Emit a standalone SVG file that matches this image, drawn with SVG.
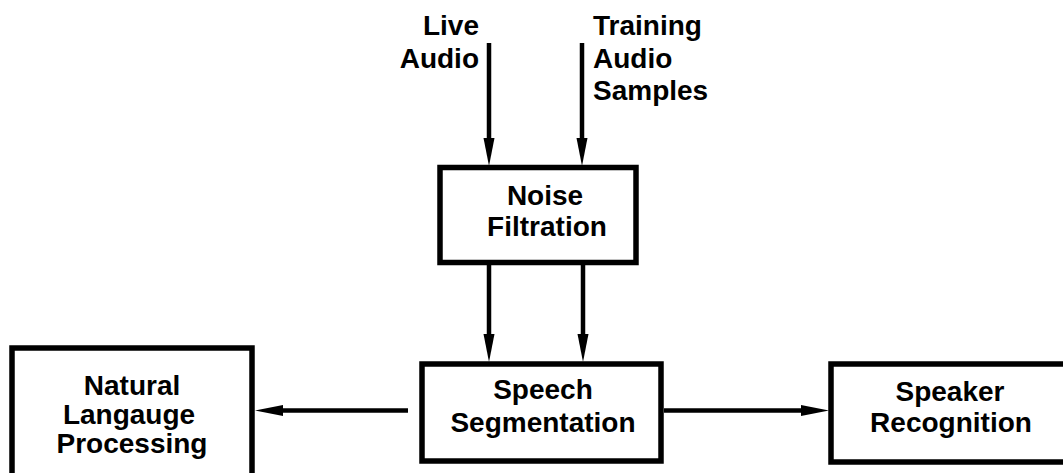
<svg xmlns="http://www.w3.org/2000/svg" width="1063" height="473" viewBox="0 0 1063 473">
<defs>
<style>
.box{fill:#fff;stroke:#000;stroke-width:5.5}
.line{stroke:#000;stroke-width:4.5;fill:none}
.head{fill:#000}
text{font-family:"Liberation Sans",Arial,sans-serif;font-weight:bold;font-size:28px;fill:#000}
.c{text-anchor:middle}
</style>
</defs>
<rect width="1063" height="473" fill="#fff"/>
<g id="connectors">
<line class="line" x1="489" y1="43" x2="489" y2="142"/>
<polygon class="head" points="489,166 483.5,138 494.5,138"/>
<line class="line" x1="582" y1="43" x2="582" y2="142"/>
<polygon class="head" points="582,166 576.5,138 587.5,138"/>
<line class="line" x1="489" y1="264" x2="489" y2="338"/>
<polygon class="head" points="489,362 483.5,334 494.5,334"/>
<line class="line" x1="583" y1="264" x2="583" y2="338"/>
<polygon class="head" points="583,362 577.5,334 588.5,334"/>
<line class="line" x1="408" y1="410.5" x2="278" y2="410.5"/>
<polygon class="head" points="255,410.5 283,405 283,416"/>
<line class="line" x1="664" y1="410.5" x2="805" y2="410.5"/>
<polygon class="head" points="829,410.5 801,405 801,416"/>
</g>
<g id="label-live">
<text x="479" y="35" text-anchor="end">Live</text>
<text x="479" y="68" text-anchor="end">Audio</text>
</g>
<g id="label-training">
<text x="593" y="35">Training</text>
<text x="593" y="68">Audio</text>
<text x="593" y="100">Samples</text>
</g>
<g id="noise-filtration">
<rect class="box" x="440" y="167.5" width="196" height="95"/>
<text class="c" x="545" y="205">Noise</text>
<text class="c" x="547" y="236">Filtration</text>
</g>
<g id="speech-segmentation">
<rect class="box" x="422" y="364" width="239" height="97"/>
<text class="c" x="543" y="399">Speech</text>
<text class="c" x="543" y="432">Segmentation</text>
</g>
<g id="nlp">
<rect class="box" x="12" y="348" width="240" height="140"/>
<text class="c" x="132" y="395">Natural</text>
<text class="c" x="129" y="424">Langauge</text>
<text class="c" x="132" y="453">Processing</text>
</g>
<g id="speaker-recognition">
<rect class="box" x="831" y="364" width="250" height="98"/>
<text class="c" x="950" y="401">Speaker</text>
<text class="c" x="951" y="432">Recognition</text>
</g>
</svg>
